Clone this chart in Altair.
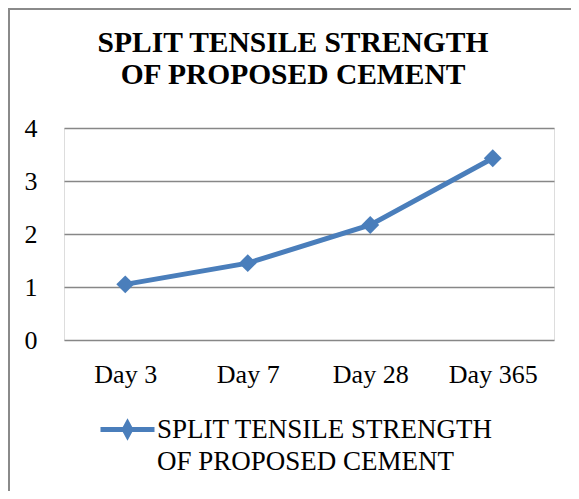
import altair as alt
import pandas as pd

# ---- data ----
DAYS = ["Day 3", "Day 7", "Day 28", "Day 365"]
VALUES = [1.05, 1.45, 2.17, 3.43]
TITLE_LINES = ["SPLIT TENSILE STRENGTH", "OF PROPOSED CEMENT"]
SERIES = " ".join(TITLE_LINES)
Y_TICKS = [0, 1, 2, 3, 4]

BLUE = "#4a7ebb"
FONT = "Liberation Serif"

df = pd.DataFrame({"day": DAYS, "value": VALUES, "series": [SERIES] * len(DAYS)})

n1 = len(TITLE_LINES[0])
label_expr = f"[slice(datum.label, 0, {n1}), slice(datum.label, {n1 + 1})]"

# custom legend symbol: a line with a small diamond in its middle
sym = "M-1,0H1M-0.12,0L0,-0.22L0.12,0L0,0.22Z"

base = alt.Chart(df)

color = alt.Color(
    "series:N",
    scale=alt.Scale(range=[BLUE]),
    legend=alt.Legend(
        title=None,
        orient="none",
        legendX=34,
        legendY=272,
        padding=0,
        labelFont=FONT,
        labelFontSize=27,
        labelColor="#000000",
        labelLimit=0,
        labelOffset=0,
        labelExpr=label_expr,
        symbolType=sym,
        symbolSize=2916,
        symbolStrokeWidth=5,
        symbolFillColor=BLUE,
        symbolStrokeColor=BLUE,
    ),
)

x = alt.X(
    "day:N",
    sort=DAYS,
    scale=alt.Scale(paddingInner=0, paddingOuter=0.5),
    axis=alt.Axis(
        title=None,
        labelAngle=0,
        labelFont=FONT,
        labelFontSize=26,
        labelColor="#000000",
        labelPadding=21,
        ticks=False,
        domain=False,
        grid=False,
    ),
)
y = alt.Y(
    "value:Q",
    scale=alt.Scale(domain=[0, 4], nice=False),
    axis=alt.Axis(
        title=None,
        values=Y_TICKS,
        labelFont=FONT,
        labelFontSize=26,
        labelColor="#000000",
        labelPadding=27,
        ticks=False,
        domain=False,
        grid=True,
        gridColor="#878787",
        gridWidth=1.5,
    ),
)

line = base.mark_line(strokeWidth=5).encode(x=x, y=y, color=color)
points = base.mark_point(shape="diamond", size=320, filled=True, opacity=1).encode(
    x=x, y=y, color=alt.Color("series:N", scale=alt.Scale(range=[BLUE]), legend=None)
)

border = alt.Chart(pd.DataFrame({"a": [0]})).mark_rect(
    fill=None, stroke="#8a8a8a", strokeWidth=2
).encode(x=alt.value(-55), y=alt.value(-119), x2=alt.value(700), y2=alt.value(700))

chart = (
    alt.layer(border, line, points)
    .properties(
        width=490,
        height=212,
        title=alt.Title(
            text=TITLE_LINES,
            font=FONT,
            fontSize=29.5,
            fontWeight="bold",
            color="#000000",
            lineHeight=32,
            anchor="middle",
            frame="group",
            dx=-16,
            offset=-82,
        ),
        autosize=alt.AutoSizeParams(type="none"),
        padding={"left": 56, "top": 120, "right": 17, "bottom": 151},
    )
    .configure_view(stroke=None)
    .configure(background="white", style={"guide-label": {"lineHeight": 32}})
)

chart.save("out.html", embed_options={"renderer": "svg", "actions": False})
